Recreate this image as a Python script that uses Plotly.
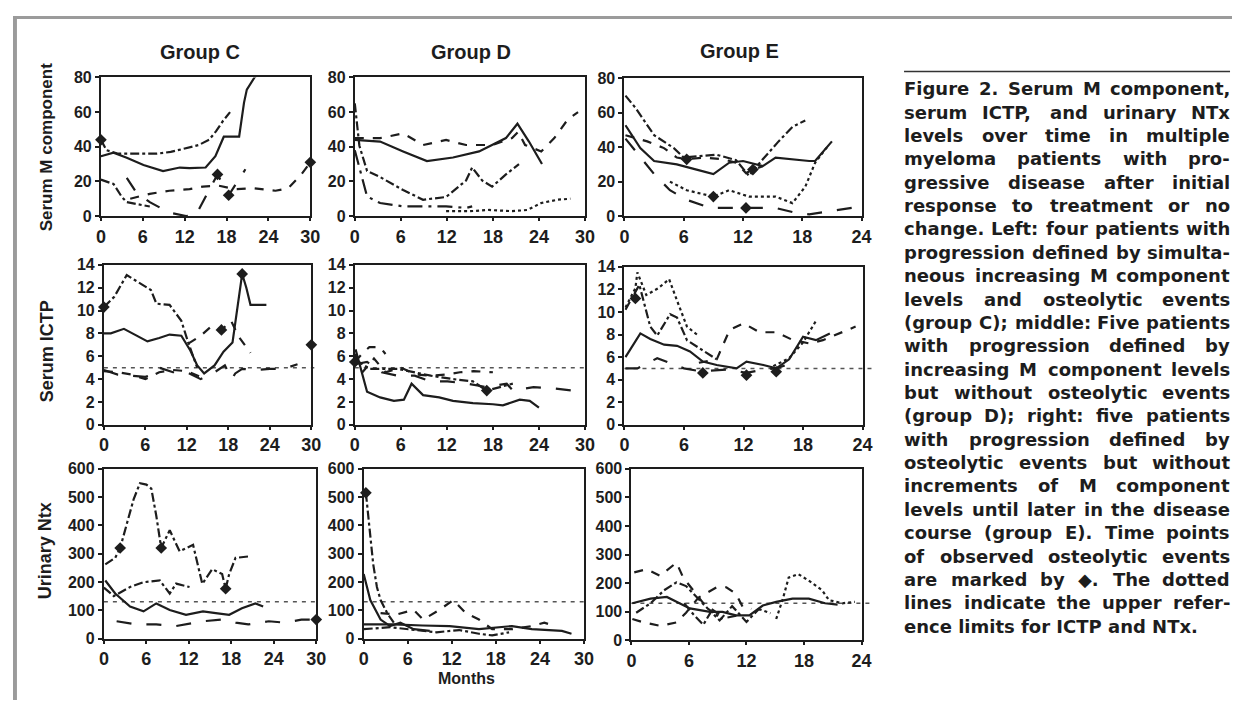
import plotly.graph_objects as go

# ------------------------------------------------------------------ data
MONTH_TICKS_CD = [0, 6, 12, 18, 24, 30]
MONTH_TICKS_E = [0, 6, 12, 18, 24]
M_TICKS = [0, 20, 40, 60, 80]
ICTP_TICKS = [0, 2, 4, 6, 8, 10, 12, 14]
NTX_TICKS = [0, 100, 200, 300, 400, 500, 600]
REF_ICTP = 5.0
REF_NTX = 130

# Group C - serum M component
CM_solid_x = [0, 1.8, 3.7, 6.1, 8.9, 11.3, 12.7, 15, 16.4, 17.6, 19.8, 20.5, 20.9, 22, 23]
CM_solid_y = [34.5, 36.6, 33.6, 29.5, 26, 28, 27.6, 28, 34.5, 45.8, 45.8, 65.5, 73, 80, 84]
CM_dd_x = [0, 0.8, 2.5, 5, 8, 10, 12, 14, 15.5, 16.5, 17.5, 18.5]
CM_dd_y = [44, 38, 36, 36, 36, 37, 39, 41, 44, 49, 55, 60]
CM_dd2_x = [0, 1.8, 3, 3.7, 5, 7]
CM_dd2_y = [21, 18.5, 11, 8, 7, 5.5]
CM_ld_x = [3.7, 5, 7, 9.8, 12.2, 13.6, 15.5, 16.7, 18.3, 20.7]
CM_ld_y = [22, 14, 8, 2, 0, 0.5, 15, 24, 12, 27]
CM_dash_x = [4.2, 7, 9.8, 12.7, 14.6, 16.9, 19.3, 22, 25, 26.8, 28.7, 30]
CM_dash_y = [10, 12.8, 14.6, 15.5, 17, 17.5, 15.5, 16, 14.6, 16, 24, 31]
CM_ev_x = [0, 16.7, 18.3, 30]
CM_ev_y = [44, 24, 12, 31]

# Group D - serum M component
DM_solid_x = [0, 3.3, 6.3, 9.4, 12.8, 16.2, 19.7, 21.2, 22.7, 24.4]
DM_solid_y = [44, 43, 37.3, 31.7, 33.8, 37.3, 45, 53.3, 43, 30]
DM_dash_x = [0, 3.3, 6.3, 8.9, 11.9, 14.5, 17.9, 20.5, 21.3, 22.2, 24.3, 26, 27.8, 29.1]
DM_dash_y = [45, 45, 47.7, 41, 43.9, 41, 41, 45, 48.6, 41, 37.3, 45, 56, 60]
DM_dd_x = [0, 0.6, 1.6, 3.3, 6.3, 8.9, 11.9, 14.5, 15.3, 16.6, 17.9, 19.7, 21.4]
DM_dd_y = [65, 40.6, 26, 22.5, 15, 9.4, 11, 20.5, 28, 20.5, 17, 24, 30]
DM_dd2_x = [0, 1.6, 3.3, 6.3, 8.9, 11.9, 14.5, 15.3]
DM_dd2_y = [38, 11.3, 7.5, 5.6, 5.6, 5.6, 4.7, 5.6]
DM_dot_x = [11.9, 15, 17.5, 20.5, 22.5, 24.3, 26.4, 28.1]
DM_dot_y = [2.8, 2.8, 3.5, 2.8, 3.5, 7.5, 9.4, 10]

# Group E - serum M component
EM_dd_x = [0.1, 1.1, 3, 5, 6, 9.3, 11.3, 12.6, 14, 15.6, 17, 18.3]
EM_dd_y = [70, 63, 47, 39.5, 34, 35.7, 32.5, 23.4, 33, 43.4, 51.8, 55.6]
EM_solid_x = [0.1, 1.6, 3, 5.3, 7.3, 9, 10.6, 12, 14, 15.3, 18.7, 19.3, 21]
EM_solid_y = [52.8, 39.5, 32, 30, 27, 24.4, 31, 32, 29, 34, 32, 32, 43.4]
EM_dash_x = [0.1, 2.3, 4, 5.3, 6.3, 8, 10, 11.3, 12.3, 13, 14]
EM_dash_y = [47, 43.4, 39.5, 34, 33, 34, 33, 31, 25, 27, 29]
EM_ld_x = [0.1, 1.5, 3, 4.6, 6.3, 8.7, 12, 15.3, 17.3, 18.7, 20.7, 24]
EM_ld_y = [45, 35, 24.4, 15, 9.4, 4.7, 4.7, 4.7, 1.9, 1, 2.8, 5.6]
EM_dot_x = [4.6, 6.3, 9, 10.6, 12.6, 15.3, 17, 18.3, 19.3, 20.5]
EM_dot_y = [20, 15, 11.3, 15, 11.3, 11.3, 7.5, 17, 31, 40]
EM_ev_x = [6.3, 9, 12.3, 13]
EM_ev_y = [33, 11.3, 4.7, 27]

# Group C - serum ICTP
CI_dd_x = [0, 1.5, 3.3, 5, 6.8, 7.6, 9.5, 11.2, 12.2, 13.5]
CI_dd_y = [10.3, 11.2, 13.1, 12.5, 11.8, 10.6, 10.5, 9.1, 7.2, 5.0]
CI_dash_x = [12.2, 14, 15.5, 17, 18.4, 19.5, 21.2]
CI_dash_y = [7.1, 7.8, 8.6, 8.3, 9.1, 7.7, 6.3]
CI_solid_x = [0, 1, 2.9, 4.5, 6.3, 8, 9.5, 11.2, 12.5, 13.5, 14.5, 16, 17.3, 18.6, 19.5, 20, 20.6, 21.2, 22, 23.5]
CI_solid_y = [8, 8, 8.4, 7.9, 7.3, 7.6, 7.9, 7.8, 6.5, 5.2, 4.5, 5.2, 6.4, 7.2, 11, 13.2, 12, 10.5, 10.5, 10.5]
CI_ld_x = [0, 2, 4, 6, 7, 8, 10, 12, 14, 16, 17.5, 18.5, 19, 20, 22, 24, 26, 28]
CI_ld_y = [4.8, 4.4, 4.3, 4.2, 4.4, 5.0, 4.6, 4.6, 4.0, 4.6, 5.2, 4.0, 4.5, 4.9, 4.8, 4.9, 4.9, 5.3]
CI_dash2_x = [0, 2, 4, 6, 8, 10, 12, 14]
CI_dash2_y = [4.7, 4.6, 4.4, 4.0, 4.6, 4.8, 4.7, 4.2]
CI_ev_x = [0, 20, 17, 30]
CI_ev_y = [10.3, 13.2, 8.3, 7.0]

# Group D - serum ICTP
DI_solid_x = [0.1, 1, 1.6, 3.3, 5.1, 6.4, 7.4, 8.9, 11, 12.8, 15.4, 18, 19.3, 21.5, 22.8, 24]
DI_solid_y = [6.6, 4.3, 2.9, 2.4, 2.1, 2.2, 3.6, 2.6, 2.4, 2.1, 1.9, 1.8, 1.7, 2.2, 2.1, 1.5]
DI_dash_x = [0, 1.2, 1.9, 3.3, 4]
DI_dash_y = [5.5, 6.4, 6.8, 6.8, 6.2]
DI_a_x = [0, 1.6, 3.5, 5.6, 7.8, 9.9, 12.1, 14.7, 17.2, 19.8, 20.6, 23.3, 25.8, 28.4]
DI_a_y = [5.3, 5.5, 4.6, 4.3, 4.3, 3.8, 3.8, 3.6, 3.3, 3.6, 3.0, 3.3, 3.2, 3.0]
DI_b_x = [0, 2, 5.6, 7.8, 9.9, 12.8, 15.4, 17.2, 19, 20.6]
DI_b_y = [5.7, 4.9, 4.9, 4.6, 4.3, 4.0, 3.8, 3.0, 3.3, 3.6]
DI_c_x = [0, 1, 2.5, 4, 6, 8, 10, 12, 13.7, 15.5, 18]
DI_c_y = [6.2, 4.6, 5.8, 4.6, 5.0, 4.4, 4.3, 4.4, 4.6, 4.7, 4.6]
DI_ev_x = [0, 17.2]
DI_ev_y = [5.5, 3.0]

# Group E - serum ICTP
EI_dot_x = [0.1, 1.1, 1.3, 2.2, 3.4, 4.5, 5.3, 6.3, 7.3]
EI_dot_y = [10.4, 12.1, 13.5, 11.5, 12.1, 12.9, 11, 8.7, 8.0]
EI_dd_x = [0.1, 1.5, 2.6, 3.3, 4.6, 5.3, 6.3, 7.9, 9.3]
EI_dd_y = [10.2, 12.4, 8.7, 7.9, 9.8, 9.5, 7.5, 6.6, 5.8]
EI_solid_x = [0.1, 1.6, 2.6, 4, 5.3, 6.6, 7.9, 9.3, 11.3, 12.3, 14, 15.3, 16.6, 18, 19.3, 20.7]
EI_solid_y = [6, 8.1, 7.6, 7.1, 7.0, 6.5, 5.6, 5.3, 5.0, 5.6, 5.3, 5.0, 5.8, 7.8, 7.5, 8.1]
EI_dash_x = [7.5, 9.3, 10.6, 12, 13.6, 15.3, 17, 18.7, 20, 22, 23.3]
EI_dash_y = [5.5, 5.8, 8.4, 9.0, 8.2, 8.2, 7.5, 7.2, 7.5, 8.2, 8.7]
EI_ld_x = [0.1, 1.3, 3.3, 4.6, 6, 7.3, 8.7, 10.5, 12.3, 14, 15.3, 16.6]
EI_ld_y = [5, 5, 5.9, 5.5, 5.0, 4.8, 4.8, 4.9, 4.6, 4.9, 5.0, 5.4]
EI_dot2_x = [15, 16.6, 18, 19.3]
EI_dot2_y = [5.2, 5.9, 7.3, 9.2]
EI_ev_x = [1.1, 7.9, 12.3, 15.3]
EI_ev_y = [11.2, 4.6, 4.4, 4.7]

# Group C - urinary NTx
CN_dd_x = [0.2, 1.6, 2.3, 4.2, 5.1, 6, 6.7, 7.4, 8.1, 9.3, 10.7, 12.6, 13.9, 15.3, 16.7, 17.2, 17.7, 18.6, 20.4]
CN_dd_y = [262, 285, 320, 492, 549, 544, 530, 434, 320, 383, 308, 331, 193, 245, 228, 176, 228, 285, 290]
CN_dd2_x = [0, 1.4, 3.7, 5.6, 7.9, 9.3, 10.2, 12.1]
CN_dd2_y = [180, 150, 182, 199, 205, 159, 194, 182]
CN_solid_x = [0.2, 1.6, 3.7, 5.6, 7.4, 9.3, 11.6, 14, 15.8, 17.7, 19.5, 21.4, 22.5]
CN_solid_y = [205, 159, 113, 96, 124, 101, 84, 96, 90, 84, 107, 124, 113]
CN_ld_x = [1.8, 4.6, 7.4, 10.2, 14, 16.7, 18.6, 20.4, 23.3, 25.6, 27.9, 30]
CN_ld_y = [61, 50, 50, 44, 61, 67, 56, 50, 61, 56, 67, 67]
CN_ev_x = [2.3, 8.1, 17.2, 30]
CN_ev_y = [320, 320, 176, 67]

# Group D - urinary NTx
DN_dd_x = [0.3, 0.6, 0.9, 1.3, 1.8, 2.3, 3.2, 4.1]
DN_dd_y = [515, 440, 343, 262, 182, 136, 90, 56]
DN_solid_x = [0, 0.9, 2.3, 3.6, 5, 6.8, 9]
DN_solid_y = [228, 136, 67, 44, 56, 33, 27]
DN_dash_x = [2.3, 4.5, 6.8, 8.1, 10.3, 12.2, 13.9, 15.7, 17.5, 20.2, 22.9, 24.6, 26]
DN_dash_y = [90, 85, 101, 67, 101, 136, 90, 67, 33, 33, 44, 56, 44]
DN_thick_x = [0, 4, 8, 11.7, 15.7, 20.2, 22.9, 27, 28.3]
DN_thick_y = [50, 50, 46, 44, 33, 44, 33, 27, 17]
DN_dd2_x = [0, 3.6, 9.9, 13, 15.7, 17.5, 19.8]
DN_dd2_y = [33, 40, 22, 30, 17, 11, 22]
DN_ev_x = [0.3]
DN_ev_y = [515]

# Group E - urinary NTx
EN_dash_x = [0.3, 1.6, 3, 4.7, 5.4, 6.5, 7.5, 8.9, 10, 11.5]
EN_dash_y = [238, 249, 226, 272, 220, 175, 130, 97, 80, 90]
EN_dd_x = [0.5, 2, 3.4, 4.7, 5.7, 6.8, 8, 9.5]
EN_dd_y = [97, 130, 175, 203, 190, 150, 110, 75]
EN_bowl_x = [0.1, 1.3, 3, 4.7, 5.7, 7, 8.9, 9.9, 10.9, 11.6, 12.5]
EN_bowl_y = [75, 63, 51, 63, 97, 150, 186, 186, 163, 118, 110]
EN_solid_x = [0.1, 2, 3.7, 4.7, 6.1, 8.2, 9.5, 10.9, 12.3, 13.7, 15.1, 16.8, 18.5, 20.2, 21.5]
EN_solid_y = [130, 146, 152, 135, 112, 100, 100, 88, 88, 122, 135, 146, 146, 130, 125]
EN_dot_x = [15.1, 15.8, 16.4, 17.4, 18.5, 19.9, 20.6, 22, 23.3]
EN_dot_y = [75, 146, 220, 232, 209, 175, 141, 130, 135]
EN_mess_x = [5.5, 6.5, 7.5, 8.3, 9.2, 10.5, 12, 13.3, 14.5]
EN_mess_y = [130, 90, 55, 100, 70, 120, 65, 110, 95]

GROUPS = ["Group C", "Group D", "Group E"]
ROW_TITLES = ["Serum M component", "Serum ICTP", "Urinary Ntx"]
X_TITLE = "Months"
CAPTION = [
    "Figure 2. Serum M component,",
    "serum ICTP, and urinary NTx",
    "levels over time in multiple",
    "myeloma patients with pro-",
    "gressive disease after initial",
    "response to treatment or no",
    "change. Left: four patients with",
    "progression defined by simulta-",
    "neous increasing M component",
    "levels and osteolytic events",
    "(group C); middle: Five patients",
    "with progression defined by",
    "increasing M component levels",
    "but without osteolytic events",
    "(group D); right: five patients",
    "with progression defined by",
    "osteolytic events but without",
    "increments of M component",
    "levels until later in the disease",
    "course (group E). Time points",
    "of observed osteolytic events",
    "are marked by \u25c6. The dotted",
    "lines indicate the upper refer-",
    "ence limits for ICTP and NTx.",
]

# ------------------------------------------------------------------ layout
# The page keeps the browser's default 8px body margin, so the figure is
# 16px smaller than the window and page pixel p maps to figure pixel p - 8.
PAGE_W, PAGE_H = 1250, 717
OFF = 8
W, H = PAGE_W - 2 * OFF, PAGE_H - 2 * OFF
INK = "#1d1d1d"
FONT = "Liberation Sans"

def fx(px):
    return (px - OFF) / W

def fy(py):
    return 1 - (py - OFF) / H

PANELS = [
    ([(CM_solid_x, CM_solid_y, "solid"), (CM_dd_x, CM_dd_y, "dashdot"), (CM_dd2_x, CM_dd2_y, "dashdot"),
      (CM_ld_x, CM_ld_y, "longdash"), (CM_dash_x, CM_dash_y, "dash")],
     (CM_ev_x, CM_ev_y), None, 30, MONTH_TICKS_CD, 80, M_TICKS, (97, 309, 71, 213), 0),
    ([(DM_solid_x, DM_solid_y, "solid"), (DM_dash_x, DM_dash_y, "dash"), (DM_dd_x, DM_dd_y, "dashdot"),
      (DM_dd2_x, DM_dd2_y, "longdashdot"), (DM_dot_x, DM_dot_y, "dot")],
     None, None, 30, MONTH_TICKS_CD, 80, M_TICKS, (354, 587, 71, 213), 0),
    ([(EM_dd_x, EM_dd_y, "dashdot"), (EM_solid_x, EM_solid_y, "solid"), (EM_dash_x, EM_dash_y, "dash"),
      (EM_ld_x, EM_ld_y, "longdash"), (EM_dot_x, EM_dot_y, "dot")],
     (EM_ev_x, EM_ev_y), None, 24, MONTH_TICKS_E, 80, M_TICKS, (627, 867, 72, 213), 0),
    ([(CI_dd_x, CI_dd_y, "dashdot"), (CI_dash_x, CI_dash_y, "dash"), (CI_solid_x, CI_solid_y, "solid"),
      (CI_ld_x, CI_ld_y, "longdash"), (CI_dash2_x, CI_dash2_y, "dash")],
     (CI_ev_x, CI_ev_y), REF_ICTP, 30, MONTH_TICKS_CD, 14, ICTP_TICKS, (100, 310, 263, 427), 3),
    ([(DI_solid_x, DI_solid_y, "solid"), (DI_dash_x, DI_dash_y, "dash"), (DI_a_x, DI_a_y, "longdash"),
      (DI_b_x, DI_b_y, "dashdot"), (DI_c_x, DI_c_y, "dash")],
     (DI_ev_x, DI_ev_y), REF_ICTP, 30, MONTH_TICKS_CD, 14, ICTP_TICKS, (354, 587, 263, 427), 0),
    ([(EI_dot_x, EI_dot_y, "dot"), (EI_dd_x, EI_dd_y, "dashdot"), (EI_solid_x, EI_solid_y, "solid"),
      (EI_dash_x, EI_dash_y, "dash"), (EI_ld_x, EI_ld_y, "longdash"), (EI_dot2_x, EI_dot2_y, "dot")],
     (EI_ev_x, EI_ev_y), REF_ICTP, 24, MONTH_TICKS_E, 14, ICTP_TICKS, (627, 868, 265, 427), 12),
    ([(CN_dd_x, CN_dd_y, "dashdot"), (CN_dd2_x, CN_dd2_y, "dashdot"), (CN_solid_x, CN_solid_y, "solid"),
      (CN_ld_x, CN_ld_y, "longdash")],
     (CN_ev_x, CN_ev_y), REF_NTX, 30, MONTH_TICKS_CD, 600, NTX_TICKS, (100, 315, 472, 646), 0),
    ([(DN_dd_x, DN_dd_y, "dashdot"), (DN_solid_x, DN_solid_y, "solid"), (DN_dash_x, DN_dash_y, "dash"),
      (DN_thick_x, DN_thick_y, "solid"), (DN_dd2_x, DN_dd2_y, "dashdot")],
     (DN_ev_x, DN_ev_y), REF_NTX, 30, MONTH_TICKS_CD, 600, NTX_TICKS, (363, 586, 472, 646), 0),
    ([(EN_dash_x, EN_dash_y, "dash"), (EN_dd_x, EN_dd_y, "dashdot"), (EN_bowl_x, EN_bowl_y, "dash"),
      (EN_solid_x, EN_solid_y, "solid"), (EN_dot_x, EN_dot_y, "dot"), (EN_mess_x, EN_mess_y, "dashdot")],
     None, REF_NTX, 24, MONTH_TICKS_E, 600, NTX_TICKS, (634, 867, 472, 648), 12),
]

fig = go.Figure()
layout = dict(
    width=W, height=H, margin=dict(l=0, r=0, t=0, b=0),
    paper_bgcolor="white", plot_bgcolor="white", showlegend=False,
)
shapes = []

for i, (series, events, ref, xmax, xt, ymax, yt, box, ref_over) in enumerate(PANELS, start=1):
    l, r, t, b = box
    xs = "x" if i == 1 else f"x{i}"
    ys = "y" if i == 1 else f"y{i}"
    xa = "xaxis" if i == 1 else f"xaxis{i}"
    ya = "yaxis" if i == 1 else f"yaxis{i}"
    layout[xa] = dict(
        domain=[fx(l), fx(r)], range=[0, xmax], tickvals=xt, anchor=ys,
        showline=True, mirror=True, linecolor=INK, linewidth=2,
        ticks="outside", ticklen=3, tickwidth=1.5, tickcolor=INK,
        showgrid=False, zeroline=False,
        tickfont=dict(family=FONT, size=18, color=INK, weight="bold"),
    )
    layout[ya] = dict(
        domain=[fy(b), fy(t)], range=[0, ymax], tickvals=yt, anchor=xs,
        showline=True, mirror=True, linecolor=INK, linewidth=2,
        ticks="outside", ticklen=4, tickwidth=1.5, tickcolor=INK,
        showgrid=False, zeroline=False,
        tickfont=dict(family=FONT, size=16, color=INK, weight="bold"),
    )
    if ref is not None:
        # upper reference limit: dotted line across the panel (a little past it in some panels)
        shapes.append(dict(type="line", xref="paper", yref=ys, x0=fx(l), x1=fx(r + ref_over),
                           y0=ref, y1=ref, layer="below",
                           line=dict(color="#555555", width=1.5, dash="4px,5px")))
    for sx, sy, dash in series:
        fig.add_trace(go.Scatter(
            x=sx, y=sy, mode="lines", xaxis=xs, yaxis=ys,
            line=dict(color=INK, width=2.2, dash=dash)))
    if events is not None:
        fig.add_trace(go.Scatter(
            x=events[0], y=events[1], mode="markers", xaxis=xs, yaxis=ys, cliponaxis=False,
            marker=dict(symbol="diamond", size=9, color=INK)))

ann = []
def A(text, px, py, size, xanchor="center", yanchor="middle", angle=0, family=FONT, color=INK):
    ann.append(dict(text=text, x=fx(px), y=fy(py), xref="paper", yref="paper",
                    xanchor=xanchor, yanchor=yanchor, showarrow=False, textangle=angle,
                    borderpad=0, borderwidth=0,
                    font=dict(family=family, size=size, color=color, weight="bold")))

A(GROUPS[0], 197, 45, 20)
A(GROUPS[1], 472, 45, 20)
A(GROUPS[2], 743, 44, 20)
A(ROW_TITLES[0], 42, 143, 17, angle=-90)
A(ROW_TITLES[1], 42, 352, 18, angle=-90)
A(ROW_TITLES[2], 40, 556, 18, angle=-90)
A(X_TITLE, 467, 687, 16)

# ---- justified caption (per-word placement, DejaVu Sans Bold metrics approx.)
DJV = {
    ' ': 713, 'a': 1382, 'b': 1466, 'c': 1214, 'd': 1466, 'e': 1389, 'f': 891, 'g': 1466, 'h': 1458,
    'i': 702, 'j': 702, 'k': 1362, 'l': 702, 'm': 2134, 'n': 1458, 'o': 1407, 'p': 1466, 'q': 1466,
    'r': 1010, 's': 1219, 't': 979, 'u': 1458, 'v': 1335, 'w': 1892, 'x': 1321, 'y': 1335, 'z': 1200,
    'A': 1585, 'B': 1565, 'C': 1499, 'D': 1692, 'E': 1397, 'F': 1397, 'G': 1686, 'H': 1716, 'I': 758,
    'L': 1307, 'M': 2036, 'N': 1716, 'P': 1503, 'S': 1479, 'T': 1401, 'X': 1579,
    '2': 1425, '.': 780, ',': 780, ':': 819, ';': 819, '-': 852, '(': 934, ')': 934, '\u25c6': 1577,
}
CAP_SIZE = 18
CAP_FONT = "DejaVu Sans"

def tw(s):
    return sum(DJV.get(ch, 1350) for ch in s) / 2048 * CAP_SIZE

CX0, CX1 = 910, 1240
for i, line in enumerate(CAPTION):
    cy = 82.5 + i * 23.95
    words = line.split(" ")
    if i == len(CAPTION) - 1 or len(words) == 1:
        A(line, CX0, cy, CAP_SIZE, xanchor="left", family=CAP_FONT)
        continue
    widths = [tw(w) for w in words]
    gap = (CX1 - CX0 - sum(widths)) / (len(words) - 1)
    x = CX0
    for j, w in enumerate(words):
        if j == len(words) - 1:
            A(w, CX1, cy, CAP_SIZE, xanchor="right", family=CAP_FONT)
        else:
            A(w, x, cy, CAP_SIZE, xanchor="left", family=CAP_FONT)
        x += widths[j] + gap

layout["annotations"] = ann

def prect(x0, y0, x1, y1, color):
    return dict(type="rect", xref="paper", yref="paper", x0=fx(x0), x1=fx(x1),
                y0=fy(y1), y1=fy(y0), fillcolor=color, line=dict(width=0), layer="above")

shapes += [
    prect(8, 8, 1242, 11, "#9b9b9b"),
    prect(8, 8, 12, 709, "#9b9b9b"),
    dict(type="line", xref="paper", yref="paper", x0=fx(CX0), x1=fx(CX1),
         y0=fy(65), y1=fy(65), line=dict(color="#333333", width=1.5)),
]
layout["shapes"] = shapes

fig.update_layout(**layout)
fig.write_html("out.html", config={"displayModeBar": False})
